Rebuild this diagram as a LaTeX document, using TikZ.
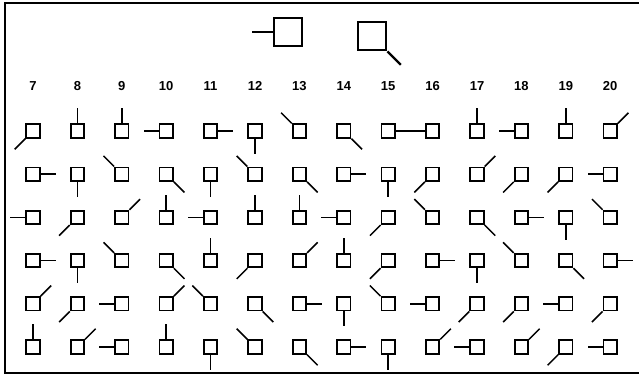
\documentclass[tikz,border=0pt]{standalone}
\usepackage{fontspec}
\setmainfont{Liberation Sans}
\begin{document}
\begin{tikzpicture}[x=1pt,y=1pt,
  cell/.style={draw,line width=1.8pt,minimum size=13.5pt,inner sep=0pt},
  bigcell/.style={draw,line width=2.8pt,minimum size=28pt,inner sep=0pt},
  stick/.style={line width=1.5pt},
  bigstick/.style={line width=2.2pt},
  collabel/.style={font=\fontsize{13}{15}\selectfont\bfseries}]

% --------- PARAMETERS ----------
\def\xfirst{33}   % column 7
\def\dx{44.4}     % column spacing
\def\ytop{244}    % row 1
\def\dy{43.2}     % row spacing
\def\len{15}      % stick length
% --------------------------------

\useasboundingbox (0,0) rectangle (639,375);

% Frame (open on the right)
\draw[line width=1.8pt] (639,372) -- (5,372) -- (5,2) -- (639,2);

% The two large squares
\node[bigcell] (bigA) at (288,343) {};
\draw[bigstick] (bigA.west) -- ++(-21,0);
\node[bigcell] (bigB) at (372,339) {};
\draw[bigstick] (bigB.south east) -- ++(-45:19);

% Column numbers
\foreach \n [count=\c from 0] in {7,...,20}
  \node[collabel] (lab\n) at (\xfirst+\c*\dx,289) {\n};

% Rows of squares: stick direction in degrees (0=E, 90=N, 180=W, 270=S)
\foreach \r/\dirs in {
  0/{225,90,90,180,0,270,135,315,0,180,90,180,90,45},
  1/{0,270,135,315,270,135,315,0,270,225,45,225,225,180},
  2/{180,225,45,90,180,90,90,180,225,135,315,0,270,135},
  3/{0,270,135,315,90,225,45,90,225,0,270,135,315,0},
  4/{45,225,180,45,135,315,0,270,135,180,225,225,180,225},
  5/{90,45,180,90,270,135,315,0,270,45,180,45,225,180}}{
  \foreach \a [count=\c from 0] in \dirs {
    \node[cell] (sq\r-\c) at (\xfirst+\c*\dx,\ytop-\r*\dy) {};
    \draw[stick] (sq\r-\c.\a) -- ++(\a:\len);
  }
}

\end{tikzpicture}
\end{document}
